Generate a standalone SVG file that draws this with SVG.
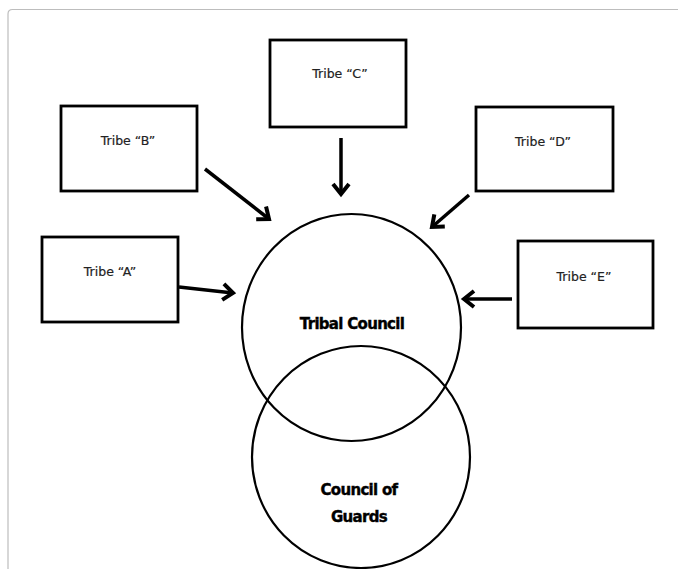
<svg xmlns="http://www.w3.org/2000/svg" width="678" height="569" viewBox="0 0 678 569">
<style>
.box{fill:#fff;stroke:#000;stroke-width:2.8}
.lbl{font-family:"DejaVu Sans",Verdana,sans-serif;font-size:12.5px;fill:#222;text-anchor:middle;stroke:#222;stroke-width:0.2}
.big{font-family:"DejaVu Sans",Verdana,sans-serif;font-size:15px;font-weight:bold;fill:#000;text-anchor:middle;letter-spacing:-0.7px;stroke:#000;stroke-width:0.4}
.circ{fill:none;stroke:#000;stroke-width:2.2}
.arr{stroke:#000;stroke-width:3.5;fill:none;marker-end:url(#ah)}
</style>
<defs>
<marker id="ah" markerUnits="userSpaceOnUse" markerWidth="30" markerHeight="30" viewBox="-15 -15 30 30" refX="0" refY="0" orient="auto">
<path d="M-10,-8 L0,0 L-10,8" fill="none" stroke="#000" stroke-width="4" stroke-linejoin="miter"/>
</marker>
</defs>
<rect width="678" height="569" fill="#fff"/>
<path d="M8,569 L8,14 Q8,9.5 12.5,9.5 L678,9.5" fill="none" stroke="#bdbdbd" stroke-width="1.2"/>
<g id="tribe-c"><rect class="box" x="270" y="40" width="136" height="87"/><text class="lbl" x="340" y="78">Tribe “C”</text></g>
<g id="tribe-b"><rect class="box" x="61" y="106" width="136" height="85"/><text class="lbl" x="128" y="145">Tribe “B”</text></g>
<g id="tribe-d"><rect class="box" x="476" y="107" width="137" height="84"/><text class="lbl" x="543" y="146">Tribe “D”</text></g>
<g id="tribe-a"><rect class="box" x="42" y="237" width="136" height="85"/><text class="lbl" x="110" y="276">Tribe “A”</text></g>
<g id="tribe-e"><rect class="box" x="518" y="241" width="135" height="87"/><text class="lbl" x="584" y="281">Tribe “E”</text></g>
<g id="tribal-council"><ellipse class="circ" cx="351.5" cy="327.5" rx="109.5" ry="113.5"/><text class="big" x="352" y="329">Tribal Council</text></g>
<g id="council-of-guards"><ellipse class="circ" cx="361" cy="457" rx="109" ry="111"/><text class="big" x="359" y="495">Council of</text><text class="big" x="359" y="522">Guards</text></g>
<g id="connectors">
<line class="arr" x1="341" y1="138" x2="341" y2="194"/>
<line class="arr" x1="205" y1="169" x2="269" y2="219"/>
<line class="arr" x1="469" y1="195" x2="432" y2="227"/>
<line class="arr" x1="179" y1="287" x2="233" y2="293"/>
<line class="arr" x1="512" y1="299" x2="464" y2="299"/>
</g>
</svg>
